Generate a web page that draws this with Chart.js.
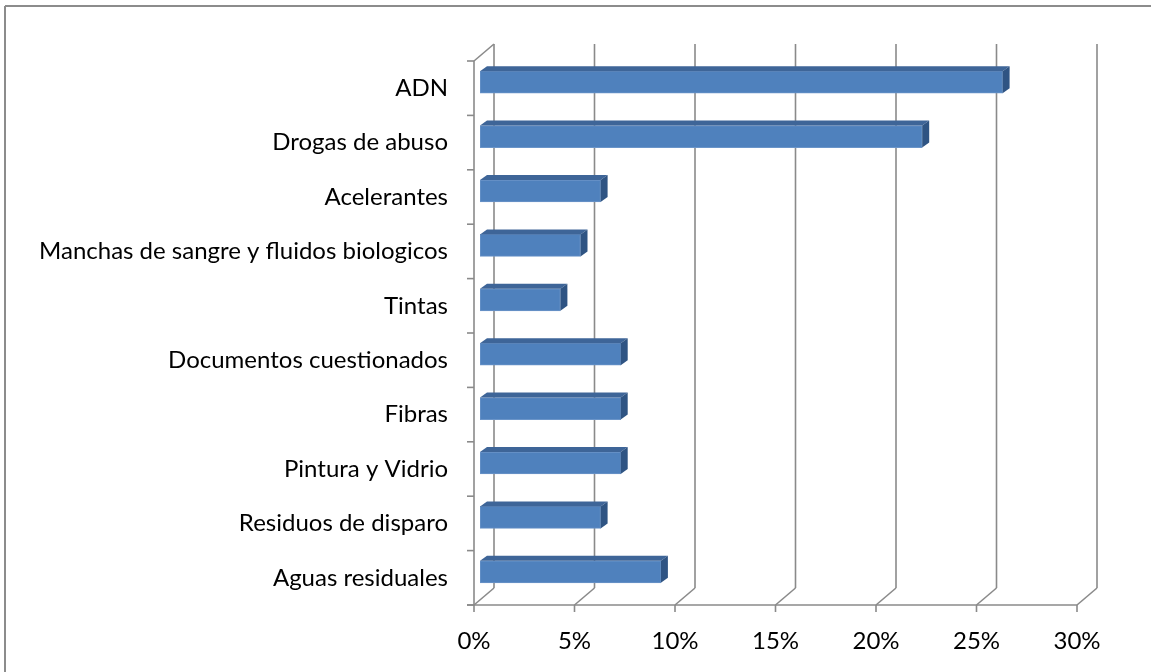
<!DOCTYPE html>
<html>
<head>
<meta charset="utf-8">
<script src="https://cdn.jsdelivr.net/npm/chart.js@4.4.1/dist/chart.umd.min.js"></script>
<style>
    html, body { margin: 0; padding: 0; background: #ffffff; }
    #wrap { width: 1151px; height: 672px; position: relative; }
</style>
</head>
<body>
<div id="wrap"><canvas id="chart" width="1151" height="672"></canvas></div>
<script>
// Chart data
var categories = [
    "ADN",
    "Drogas de abuso",
    "Acelerantes",
    "Manchas de sangre y fluidos biologicos",
    "Tintas",
    "Documentos cuestionados",
    "Fibras",
    "Pintura y Vidrio",
    "Residuos de disparo",
    "Aguas residuales"
];
var percentValues = [26, 22, 6, 5, 4, 7, 7, 7, 6, 9];
var xTickValues = [0, 5, 10, 15, 20, 25, 30];

// 3D look: depth of the wall and of the bars
var WALL_DX = 20, WALL_DY = -17;
var BAR_DX = 6, BAR_DY = -6;
var BAR_DEPTH_X = 7, BAR_DEPTH_Y = -5;
var GRID_COLOR = '#8a8a8a';

function line(ctx, x1, y1, x2, y2) {
    ctx.beginPath();
    ctx.moveTo(x1, y1);
    ctx.lineTo(x2, y2);
    ctx.stroke();
}

var frame3d = {
    id: 'frame3d',
    beforeDraw: function (chart) {
        var ctx = chart.ctx;
        var area = chart.chartArea;
        var xs = chart.scales.x;
        var ys = chart.scales.y;

        ctx.save();
        // outer frame (top and left only, picture is cropped)
        ctx.strokeStyle = '#8c8c8c';
        ctx.lineWidth = 2;
        line(ctx, 5, 6, 5, chart.height);
        line(ctx, 5, 6, chart.width, 6);

        ctx.strokeStyle = GRID_COLOR;
        ctx.lineWidth = 1.6;
        xTickValues.forEach(function (v) {
            var px = xs.getPixelForValue(v);
            // back wall gridline
            line(ctx, px + WALL_DX, area.top + WALL_DY, px + WALL_DX, area.bottom + WALL_DY);
            // floor diagonal
            line(ctx, px, area.bottom, px + WALL_DX, area.bottom + WALL_DY);
            // tick mark below the floor
            line(ctx, px, area.bottom, px, area.bottom + 7);
        });
        // floor front edge
        line(ctx, area.left - 7, area.bottom, area.right, area.bottom);
        // side wall front edge (category axis)
        line(ctx, area.left, area.top, area.left, area.bottom);
        line(ctx, area.left, area.top, area.left + WALL_DX, area.top + WALL_DY);
        // category boundary ticks
        for (var i = 0; i <= categories.length; i++) {
            var py = ys.getPixelForValue(i - 0.5);
            line(ctx, area.left - 7, py, area.left, py);
        }
        ctx.restore();
    },
    beforeDatasetsDraw: function (chart) {
        chart.ctx.save();
        chart.ctx.translate(BAR_DX, BAR_DY);
    },
    afterDatasetsDraw: function (chart) {
        var ctx = chart.ctx;
        var meta = chart.getDatasetMeta(0);
        meta.data.forEach(function (bar) {
            var p = bar.getProps(['x', 'y', 'base', 'height'], true);
            var top = p.y - p.height / 2;
            var bottom = p.y + p.height / 2;
            // top face
            ctx.fillStyle = '#3e6598';
            ctx.beginPath();
            ctx.moveTo(p.base, top);
            ctx.lineTo(p.x, top);
            ctx.lineTo(p.x + BAR_DEPTH_X, top + BAR_DEPTH_Y);
            ctx.lineTo(p.base + BAR_DEPTH_X, top + BAR_DEPTH_Y);
            ctx.closePath();
            ctx.fill();
            // end face
            ctx.fillStyle = '#2f5483';
            ctx.beginPath();
            ctx.moveTo(p.x, top);
            ctx.lineTo(p.x + BAR_DEPTH_X, top + BAR_DEPTH_Y);
            ctx.lineTo(p.x + BAR_DEPTH_X, bottom + BAR_DEPTH_Y);
            ctx.lineTo(p.x, bottom);
            ctx.closePath();
            ctx.fill();
        });
        ctx.restore();
    }
};

var ctx = document.getElementById('chart').getContext('2d');
var chart = new Chart(ctx, {
    type: 'bar',
    data: {
        labels: categories,
        datasets: [{
            data: percentValues,
            backgroundColor: '#4f81bd',
            borderColor: '#6b95c9',
            borderWidth: 1,
            borderSkipped: false,
            barThickness: 22
        }]
    },
    options: {
        indexAxis: 'y',
        responsive: false,
        animation: false,
        layout: { padding: { top: 61, right: 74, left: 0, bottom: 0 } },
        plugins: {
            legend: { display: false },
            tooltip: { enabled: false }
        },
        scales: {
            x: {
                min: 0,
                max: 30,
                border: { display: false },
                grid: { display: false },
                ticks: {
                    stepSize: 5,
                    maxRotation: 0,
                    padding: 14,
                    color: '#000000',
                    font: { family: 'Lato', size: 24 },
                    callback: function (v) { return v + '%'; }
                },
                afterFit: function (s) { s.height = 67; }
            },
            y: {
                border: { display: false },
                grid: { display: false },
                ticks: {
                    padding: 18,
                    color: '#000000',
                    font: { family: 'Lato', size: 24 }
                },
                afterFit: function (s) { s.width = 474; }
            }
        }
    },
    plugins: [frame3d]
});
</script>
</body>
</html>
